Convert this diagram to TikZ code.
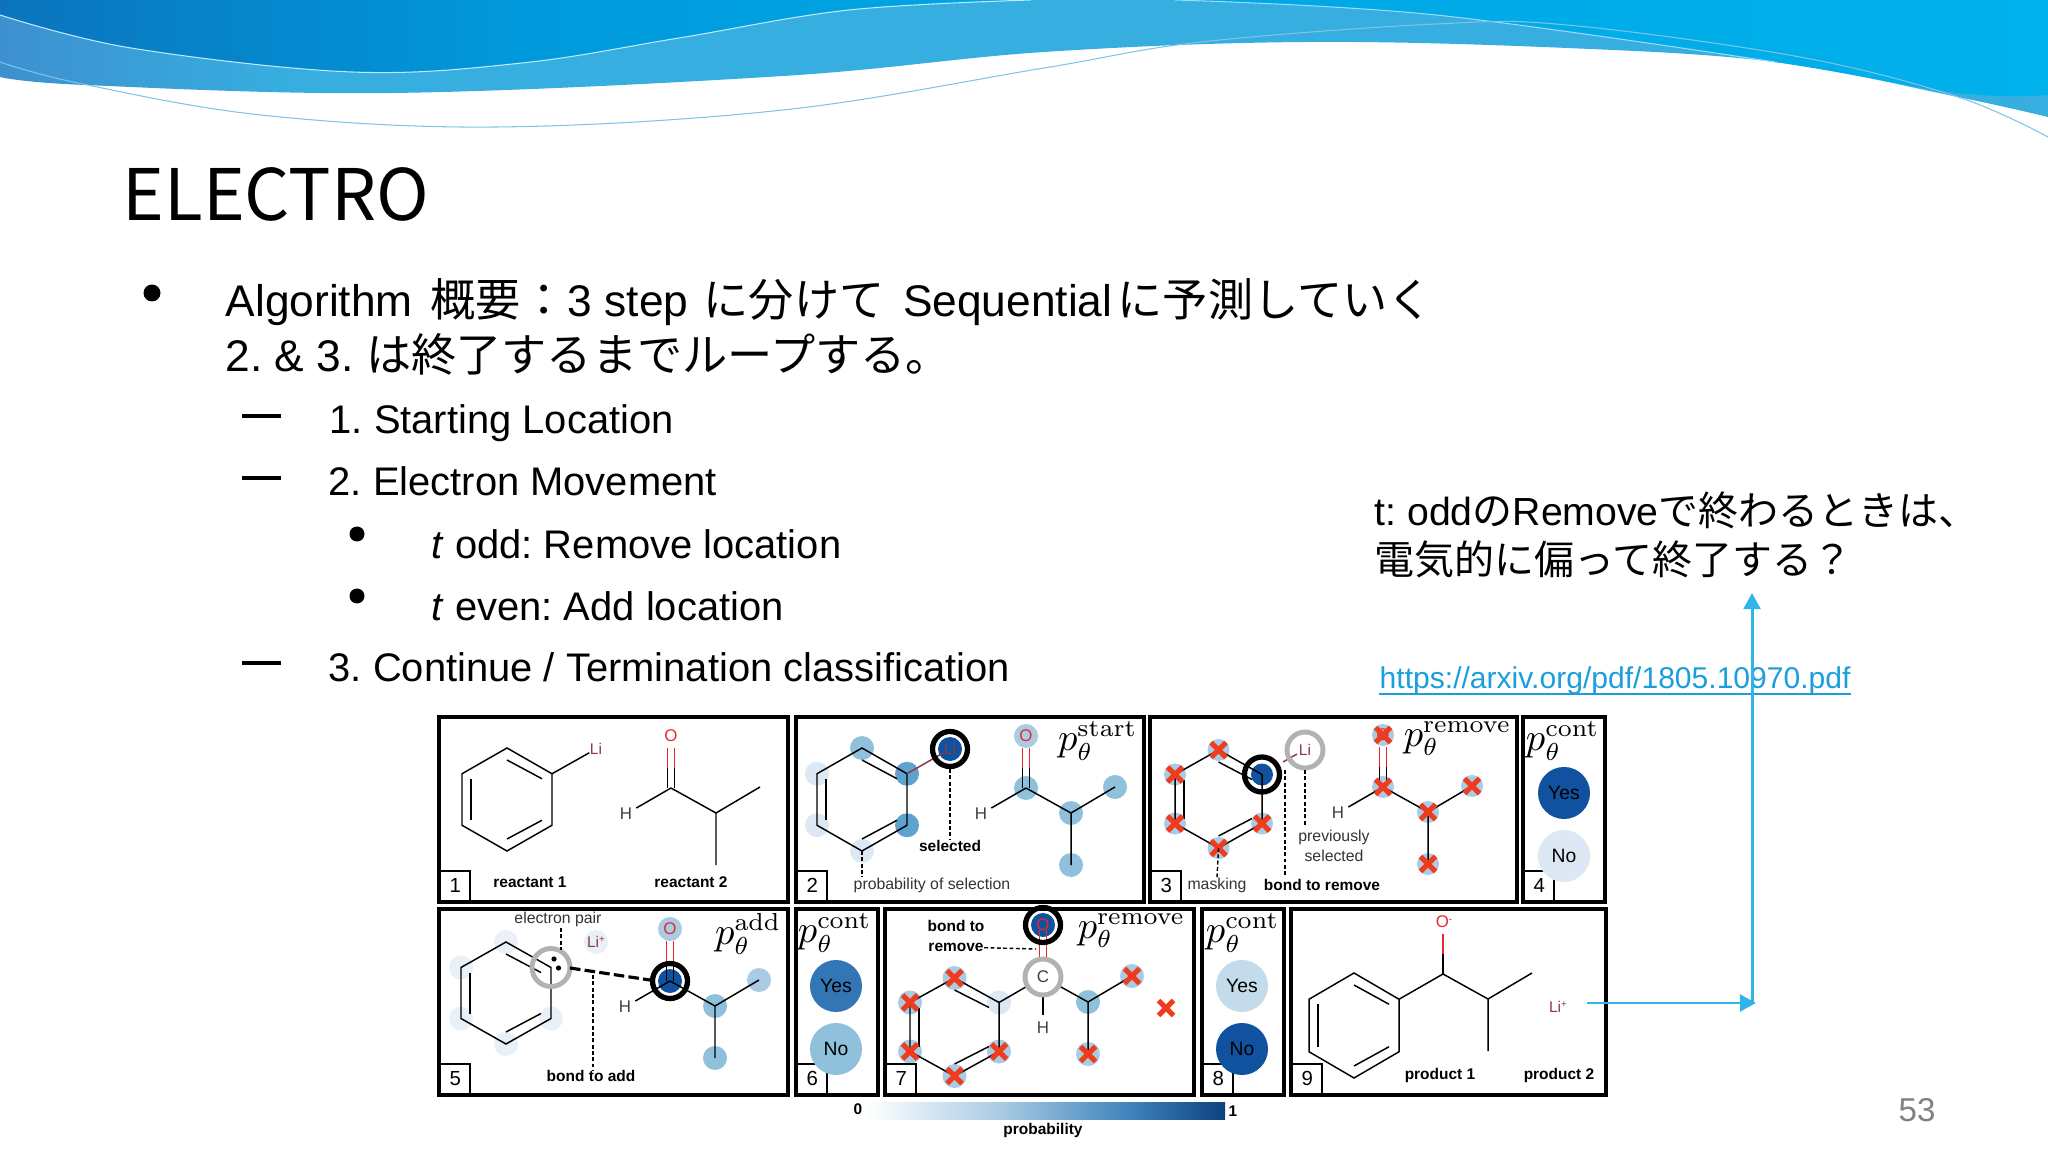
\documentclass[tikz,border=0pt]{standalone}
\usepackage[no-math]{fontspec}
\setmainfont{Liberation Sans}
\newfontfamily\cjk[Scale=1.02]{Noto Sans CJK JP}
\usetikzlibrary{arrows.meta}
\newcommand{\jp}[1]{{\cjk #1}}
\newcommand{\ionmark}[1]{\raisebox{1.6pt}{\fontsize{2.8}{3}\selectfont #1}}
\frenchspacing

\definecolor{wavedeep}{HTML}{0B74BD}
\definecolor{wavemid}{HTML}{00A5E4}
\definecolor{wavenear}{HTML}{009ADC}
\definecolor{wavecyan}{HTML}{00B1EC}
\definecolor{bandleft}{HTML}{3D90CF}
\definecolor{bandright}{HTML}{36AEE0}
\definecolor{hairline}{HTML}{7FC4E6}
\definecolor{pale}{HTML}{DCE8F3}
\definecolor{faint}{HTML}{EAF0F7}
\definecolor{mid}{HTML}{8FC0DC}
\definecolor{soft}{HTML}{A9CBE3}
\definecolor{warm}{HTML}{5EA3CF}
\definecolor{deep}{HTML}{10529F}
\definecolor{oxred}{HTML}{E8272D}
\definecolor{lired}{HTML}{8C3A46}
\definecolor{xred}{HTML}{F03C1E}
\definecolor{arrowblue}{HTML}{2FB5E8}
\definecolor{linkblue}{HTML}{1A9FDC}

\pgfdeclarehorizontalshading{bandshade}{100bp}{color(0bp)=(bandleft); color(25bp)=(bandleft); color(32bp)=(bandright); color(100bp)=(bandright)}
\pgfdeclarehorizontalshading{skyshade}{100bp}{color(0bp)=(wavedeep); color(25bp)=(wavedeep); color(38bp)=(wavenear); color(50bp)=(wavemid); color(75bp)=(wavecyan); color(100bp)=(wavecyan)}

\pgfdeclarelayer{atoms}
\pgfsetlayers{atoms,main}

\tikzset{
  bodytext/.style={anchor=base west,inner sep=0pt,font=\fontsize{12.6}{15}\selectfont},
  subtext/.style={anchor=base west,inner sep=0pt,font=\fontsize{11.35}{14}\selectfont},
  notetext/.style={anchor=base west,inner sep=0pt,font=\fontsize{11.15}{14}\selectfont},
  frame/.style={black,line width=1pt},
  numbox/.style={draw,line width=.7pt,fill=white,minimum size=.3cm,inner sep=0pt,anchor=south west,font=\fontsize{5.8}{6}\selectfont},
  bond/.style={black,line width=.42pt},
  redbond/.style={oxred,line width=.42pt},
  tagbold/.style={inner sep=0pt,font=\fontsize{4.4}{5}\bfseries\selectfont},
  tagthin/.style={inner sep=0pt,font=\fontsize{4.5}{5.6}\selectfont,align=center,text=black!80},
  oatom/.style={inner sep=0pt,text=oxred,font=\fontsize{4.8}{5}\selectfont},
  liatom/.style={inner sep=0pt,text=lired,font=\fontsize{4.4}{5}\selectfont},
  hatom/.style={inner sep=1pt,text=black!75,font=\fontsize{4.8}{5}\selectfont},
  pmath/.style={anchor=north east,inner sep=0pt,font=\fontsize{10.5}{12}\selectfont},
  votedisc/.style={circle,minimum size=.52cm,inner sep=0pt,text=black,font=\fontsize{5.5}{6}\selectfont},
  hotring/.style={black,line width=1.5pt},
  oldring/.style={black!30,line width=1.4pt},
  guide/.style={black,dashed,line width=.4pt,dash pattern=on 1.1pt off .7pt},
  flow/.style={arrowblue,line width=.85pt,-{Triangle[length=4.6pt,width=4.8pt]}},
  pics/redx/.style={code={\draw[xred,line width=1.5pt] (-7.5,-7.5) -- (7.5,7.5) (-7.5,7.5) -- (7.5,-7.5);}}
}

% ring: half width, name, x and y of the top corner, height
\newcommand{\benzring}[5][45]{
  \coordinate (#2a) at (#3,#4);
  \coordinate (#2b) at (#3+#1,#4+#5*.25);
  \coordinate (#2c) at (#3+#1,#4+#5*.75);
  \coordinate (#2d) at (#3,#4+#5);
  \coordinate (#2e) at (#3-#1,#4+#5*.75);
  \coordinate (#2f) at (#3-#1,#4+#5*.25);
  \draw[bond] (#2a) -- (#2b) -- (#2c) -- (#2d) -- (#2e) -- (#2f) -- cycle;
  \draw[bond] (#3,#4+12) -- (#3+#1-10,#4+#5*.25+5);
  \draw[bond] (#3+#1-10,#4+#5*.75-5) -- (#3,#4+#5-12);
  \draw[bond] (#3-#1+9,#4+#5*.25+5) -- (#3-#1+9,#4+#5*.75-5);
}
% carbon chain: name, x and y of the first carbon
\newcommand{\sidechain}[3]{
  \coordinate (#1k) at (#2,#3);
  \coordinate (#1m) at (#2+45,#3+25);
  \coordinate (#1p) at (#2+89,#3-1);
  \coordinate (#1q) at (#2+45,#3+77);
  \draw[bond] (#1k) -- (#1m) -- (#1p) (#1m) -- (#1q);
}
% double bond to the oxygen above a carbon, from y #3 up to y #4
\newcommand{\cobond}[4]{
  \draw[bond] (#2-3.5,#3) -- (#2-3.5,#3-20) (#2+3.5,#3) -- (#2+3.5,#3-20);
  \draw[redbond] (#2-3.5,#3-20) -- (#2-3.5,#4) (#2+3.5,#3-20) -- (#2+3.5,#4);
}
% chain with aldehyde oxygen and hydrogen
\newcommand{\aldehyde}[3]{
  \sidechain{#1}{#2}{#3}
  \cobond{#1}{#2}{#3}{#3-40}
  \coordinate (#1o) at (#2,#3-52);
  \node[oatom] (#1label) at (#1o) {O};
  \node[hatom] (#1h) at (#2-45,#3+26) {H};
  \draw[bond] (#1k) -- (#1h);
}

\begin{document}
\begin{tikzpicture}[x=.01cm,y=-.01cm]
\useasboundingbox (0,0) rectangle (2048,1152);

% header waves
\shade[shading=bandshade]
  (0,0) -- (2048,0) -- (2048,117) -- plot[smooth,tension=.6] coordinates {(2048,117) (1958,97) (1775,62) (1567,48) (1306,42) (1044,52) (783,76) (392,93) (85,85) (0,77)} -- cycle;
\shade[shading=skyshade]
  (0,0) -- (0,15) -- plot[smooth,tension=.6] coordinates {(0,15) (131,48) (352,72) (522,63) (679,38) (849,10) (1031,0)} -- cycle
  (1175,0) -- plot[smooth,tension=.6] coordinates {(1175,0) (1436,15) (1775,62) (1958,93) (2048,95)} -- (2048,0) -- cycle;
\draw[white!75!wavemid,line width=.3pt] plot[smooth,tension=.6] coordinates {(0,15) (131,48) (352,72) (522,63) (679,38) (849,10) (1031,0)};
\draw[white!60!wavemid,line width=.3pt] plot[smooth,tension=.6] coordinates {(1175,0) (1436,15) (1775,62)};
\draw[hairline,line width=.3pt] plot[smooth,tension=.6] coordinates {(0,62) (78,83) (261,115) (496,127) (783,110) (1044,68) (1201,42) (1436,24) (1567,25) (1800,57) (1958,97) (2048,137)};

% slide text
\node[anchor=base west,inner sep=0pt,font=\fontsize{19.8}{24}\selectfont\cjk] (title) at (122,221) {ELECTRO};
\fill (152,293) circle (8.5);
\node[bodytext] (lineone) at (225,317) {Algorithm\hspace{1.5pt} \jp{概要\hspace{.2pt}：}\hspace{.3pt}3 step\hspace{.8pt} \jp{に分けて}\hspace{1.8pt} Sequential\hspace{1.5pt}\jp{に予測していく}};
\node[bodytext] (linetwo) at (225,372) {2. \& 3. \jp{は終了するまでループする。}};
\foreach \y in {416,478,663}
  \fill (242,\y-2) rectangle (281,\y+2);
\node[subtext] (itemone) at (329,434) {1. Starting Location};
\node[subtext] (itemtwo) at (328,496) {2. Electron Movement};
\foreach \y in {534,596}
  \fill (357,\y) circle (7.5);
\node[subtext] (itemodd) at (431,558) {\textit{t} odd: Remove location};
\node[subtext] (itemeven) at (431,620) {\textit{t} even: Add location};
\node[subtext] (itemthree) at (328,682) {3. Continue / Termination classification};

\node[notetext] (noteone) at (1374,525) {t: odd\jp{の}Remove\jp{で終わるときは、}};
\node[notetext] (notetwo) at (1374,574) {\jp{電気的に偏って終了する？}};
\node[anchor=base west,inner sep=0pt,text=linkblue,font=\fontsize{8.55}{10}\selectfont] (paperlink) at (1379,689) {https://arxiv.org/pdf/1805.10970.pdf};
\draw[linkblue,line width=.5pt] ([yshift=-1.4pt]paperlink.base west) -- ([yshift=-1.4pt]paperlink.base east);
\node[anchor=base,inner sep=0pt,text=black!50,font=\fontsize{9.4}{11}\selectfont] (pageno) at (1917,1121) {53};

% panels
\foreach \xa/\ya/\xb/\yb/\n in {439/717/788/902/1,796/717/1144/902/2,1150/717/1517/902/3,1523/717/1605/902/4,
  439/909/788/1095/5,796/909/878/1095/6,885/909/1194/1095/7,1202/909/1284/1095/8,1291/909/1606/1095/9}{
  \draw[frame] (\xa,\ya) rectangle (\xb,\yb);
  \node[numbox] (num\n) at (\xa,\yb) {\n};
}

% panel 1
\benzring{ra}{507}{748}{103}
\aldehyde{rb}{671}{788}
\node[liatom] (rali) at (596,749) {Li};
\draw[bond] (rab) -- (rali);
\node[tagbold] (reactantone) at (530,882) {reactant 1};
\node[tagbold] (reactanttwo) at (691,882) {reactant 2};

% panel 2
\benzring{sa}{862}{748}{103}
\aldehyde{sb}{1026}{788}
\node[liatom] (sali) at (950,749) {Li};
\draw[lired,line width=.42pt] (sab) -- (sali);
\begin{pgfonlayer}{atoms}
\foreach \p/\c in {saa/mid,sab/warm,sac/warm,sad/pale,sae/pale,saf/pale,sbo/soft,sbk/mid,sbm/mid,sbp/mid,sbq/mid,sali/deep}
  \fill[\c] (\p) circle (12);
\end{pgfonlayer}
\draw[hotring] (sali) circle (17.5);
\coordinate (selfoot) at (950,840);
\node[tagbold,anchor=north] (selected) at (selfoot) {selected};
\draw[guide] (sali) ++(0,20) -- (selfoot);
\node[tagthin] (probsel) at (932,885) {probability of selection};
\draw[guide] (sad) -- (862,877);
\node[pmath] (pstart) at (1138,721) {$p_\theta^{\mathrm{start}}$};

% panel 3
\benzring[43.5]{ta}{1218.5}{750}{98}
\aldehyde{tb}{1383}{787}
\node[liatom] (tali) at (1305,750) {Li};
\begin{pgfonlayer}{atoms}
\foreach \p/\c in {taa/soft,tab/deep,tac/soft,tad/soft,tae/soft,taf/soft,tbo/soft,tbk/soft,tbm/soft,tbp/soft,tbq/soft}
  \fill[\c] (\p) circle (11);
\end{pgfonlayer}
\draw[lired,line width=.42pt] (1283,762) -- (1297,754);
\draw[hotring] (tab) circle (17.5);
\draw[oldring] (tali) circle (18);
\foreach \p in {taa,tac,tad,tae,taf,tbo,tbk,tbm,tbp,tbq}
  \pic at (\p) {redx};
\node[tagthin] (prevsel) at (1334,846) {previously\\selected};
\draw[guide] (1305,770) -- (1305,825);
\node[tagthin] (masking) at (1217,885) {masking};
\draw[guide] (tad) -- (1217,878);
\node[tagbold] (bondrem) at (1322,885) {bond to remove};
\draw[guide] (1285,770) -- (1285,877);
\node[pmath] (premove) at (1512,721) {$p_\theta^{\mathrm{remove}}$};

% panel 4
\node[pmath] (pcontone) at (1600,721) {$p_\theta^{\mathrm{cont}}$};
\node[votedisc,fill=deep] (yesone) at (1564,793) {Yes};
\node[votedisc,fill=pale] (noone) at (1564,856) {No};

% panel 5
\benzring{ua}{506}{942}{102}
\aldehyde{ub}{670}{981}
\node[liatom] (uali) at (596,942) {Li\ionmark{+}};
\begin{pgfonlayer}{atoms}
\foreach \p/\c in {uaa/faint,uac/faint,uad/faint,uae/faint,uaf/faint,uali/faint,ubo/soft,ubk/deep,ubm/mid,ubp/soft,ubq/mid}
  \fill[\c] (\p) circle (12);
\end{pgfonlayer}
\draw[oldring] (uab) circle (19);
\fill (554,959) circle (2.6) (558.5,968) circle (2.6);
\draw[hotring] (ubk) circle (17.5);
\draw[black,line width=.9pt,dashed,dash pattern=on 3pt off 1.2pt] (570,968) -- (650,980);
\node[tagthin] (pairlabel) at (558,919) {electron pair};
\draw[guide] (561,928) -- (561,950);
\node[tagbold] (bondadd) at (591,1076) {bond to add};
\draw[guide] (593,975) -- (593,1070);
\node[pmath] (padd) at (782,913) {$p_\theta^{\mathrm{add}}$};

% panel 6
\node[pmath] (pconttwo) at (872,913) {$p_\theta^{\mathrm{cont}}$};
\node[votedisc,fill=warm!45!deep] (yestwo) at (836,986) {Yes};
\node[votedisc,fill=mid] (notwo) at (836,1049) {No};

% panel 7
\benzring[44.5]{va}{954.5}{978}{98}
\sidechain{vb}{1043}{977}
\cobond{vb}{1043}{977}{930}
\draw[bond] (vab) -- (vbk);
\coordinate (vbo) at (1043,925);
\begin{pgfonlayer}{atoms}
\foreach \p/\c in {vaa/soft,vab/pale,vac/soft,vad/soft,vae/soft,vaf/soft,vbo/deep,vbm/mid,vbp/soft,vbq/soft}
  \fill[\c] (\p) circle (12);
\end{pgfonlayer}
\draw[bond] (vbk) -- (1043,1015);
\draw[oldring,fill=white] (vbk) circle (18);
\node[inner sep=0pt,text=black!75,font=\fontsize{4.8}{5}\selectfont] (vcarbon) at (vbk) {C};
\node[hatom] (vh) at (1043,1028) {H};
\draw[hotring] (vbo) circle (17.5);
\node[oatom] (volabel) at (vbo) {O};
\foreach \p in {vaa,vac,vad,vae,vaf,vbp,vbq}
  \pic at (\p) {redx};
\pic at (1166,1008) {redx};
\node[tagbold] (bondto) at (956,926) {bond to};
\node[tagbold] (removeword) at (956,947) {remove};
\draw[guide] (removeword) -- (1036,949);
\node[pmath] (premovetwo) at (1186,913) {$p_\theta^{\mathrm{remove}}$};

% panel 8
\node[pmath] (pcontthree) at (1280,913) {$p_\theta^{\mathrm{cont}}$};
\node[votedisc,fill=soft!70!white] (yesthree) at (1242,986) {Yes};
\node[votedisc,fill=deep] (nothree) at (1242,1049) {No};

% panel 9
\benzring{wa}{1354}{973}{105}
\sidechain{wb}{1443}{974}
\draw[bond] (wab) -- (wbk);
\draw[bond] (wbk) -- (1443,954);
\draw[redbond] (1443,954) -- (1443,934);
\node[oatom] (wolabel) at (1444,922) {O\ionmark{-}};
\node[liatom] (wli) at (1558,1007) {Li\ionmark{+}};
\node[tagbold] (productone) at (1440,1075) {product 1};
\node[tagbold] (producttwo) at (1559,1075) {product 2};

% colour bar
\shade[left color=white,right color=soft] (866,1102) rectangle (1000,1119);
\shade[left color=soft,right color=warm!60!deep] (1000,1102) rectangle (1130,1119);
\shade[left color=warm!60!deep,right color=deep!80!black] (1130,1102) rectangle (1225,1119);
\node[tagbold] (barzero) at (858,1109) {0};
\node[tagbold] (barone) at (1233,1111) {1};
\node[tagbold] (barname) at (1043,1130) {probability};

% blue arrows
\coordinate (listart) at (1587,1003);
\coordinate (hturn) at (1756,1003);
\coordinate (vturn) at (1752,1003);
\coordinate (noteend) at (1752,593);
\draw[flow] (listart) -- (hturn);
\draw[flow] (vturn) -- (noteend);
\end{tikzpicture}
\end{document}
